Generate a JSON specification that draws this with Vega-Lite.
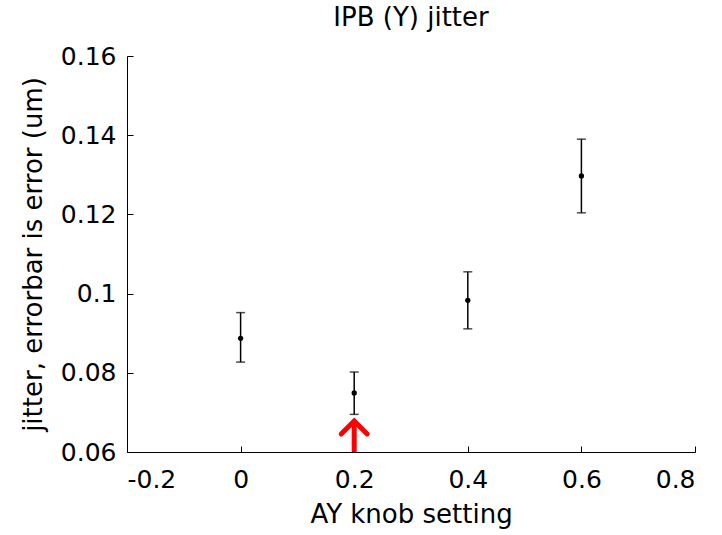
{
  "$schema": "https://vega.github.io/schema/vega-lite/v6.json",
  "width": 568,
  "height": 396,
  "autosize": "none",
  "padding": {"left": 127, "top": 56, "right": 27, "bottom": 83},
  "background": "white",
  "config": {
    "view": {"stroke": null},
    "font": "DejaVu Sans",
    "axis": {
      "domainColor": "black",
      "domainWidth": 1,
      "tickColor": "black",
      "tickSize": -6,
      "tickWidth": 1,
      "grid": false,
      "labelColor": "black",
      "titleColor": "black",
      "labelFont": "DejaVu Sans",
      "titleFont": "DejaVu Sans",
      "labelFontSize": 25,
      "titleFontSize": 26,
      "titleFontWeight": "normal"
    }
  },
  "title": {
    "text": "IPB (Y) jitter",
    "font": "DejaVu Sans",
    "fontSize": 26,
    "fontWeight": "normal",
    "color": "black",
    "offset": 13
  },
  "datasets": {
    "pts": [
      {"knob": 0.0, "jitter": 0.0887, "lo": 0.0827, "hi": 0.0952},
      {"knob": 0.2, "jitter": 0.0749, "lo": 0.0695, "hi": 0.0802},
      {"knob": 0.4, "jitter": 0.0983, "lo": 0.0911, "hi": 0.1055},
      {"knob": 0.6, "jitter": 0.1297, "lo": 0.1204, "hi": 0.1390}
    ],
    "arrow": [
      {"knob": 0.2, "base": 0.06, "shaft": 0.0672, "head": 0.0662}
    ]
  },
  "layer": [
    {
      "data": {"name": "pts"},
      "mark": {"type": "rule", "color": "black", "strokeWidth": 1.5},
      "encoding": {
        "x": {
          "field": "knob", "type": "quantitative",
          "scale": {"domain": [-0.2, 0.8], "nice": false, "zero": false},
          "axis": {
            "values": [-0.2, 0, 0.2, 0.4, 0.6, 0.8],
            "labelExpr": "toString(datum.value)",
            "labelPadding": 21,
            "title": "AY knob setting",
            "titlePadding": 9
          }
        },
        "y": {
          "field": "lo", "type": "quantitative",
          "scale": {"domain": [0.06, 0.16], "nice": false, "zero": false},
          "axis": {
            "values": [0.06, 0.08, 0.1, 0.12, 0.14, 0.16],
            "labelExpr": "toString(datum.value)",
            "labelPadding": 17,
            "title": "jitter, errorbar is error (um)",
            "titlePadding": 14
          }
        },
        "y2": {"field": "hi"}
      }
    },
    {
      "data": {"name": "pts"},
      "mark": {"type": "tick", "color": "black", "orient": "horizontal", "size": 9, "thickness": 1.5},
      "encoding": {
        "x": {"field": "knob", "type": "quantitative"},
        "y": {"field": "lo", "type": "quantitative"}
      }
    },
    {
      "data": {"name": "pts"},
      "mark": {"type": "tick", "color": "black", "orient": "horizontal", "size": 9, "thickness": 1.5},
      "encoding": {
        "x": {"field": "knob", "type": "quantitative"},
        "y": {"field": "hi", "type": "quantitative"}
      }
    },
    {
      "data": {"name": "pts"},
      "mark": {"type": "point", "filled": true, "color": "black", "size": 28, "opacity": 1, "shape": "circle"},
      "encoding": {
        "x": {"field": "knob", "type": "quantitative"},
        "y": {"field": "jitter", "type": "quantitative"}
      }
    },
    {
      "data": {"name": "arrow"},
      "mark": {"type": "rule", "color": "#ff0000", "strokeWidth": 5},
      "encoding": {
        "x": {"field": "knob", "type": "quantitative"},
        "y": {"field": "base", "type": "quantitative"},
        "y2": {"field": "shaft"}
      }
    },
    {
      "data": {"name": "arrow"},
      "mark": {
        "type": "point", "filled": false, "stroke": "#ff0000", "strokeWidth": 5,
        "opacity": 1, "strokeCap": "round", "strokeJoin": "miter",
        "shape": "M -1 0.5 L 0 -0.5 L 1 0.5", "size": 676
      },
      "encoding": {
        "x": {"field": "knob", "type": "quantitative"},
        "y": {"field": "head", "type": "quantitative"}
      }
    }
  ]
}
